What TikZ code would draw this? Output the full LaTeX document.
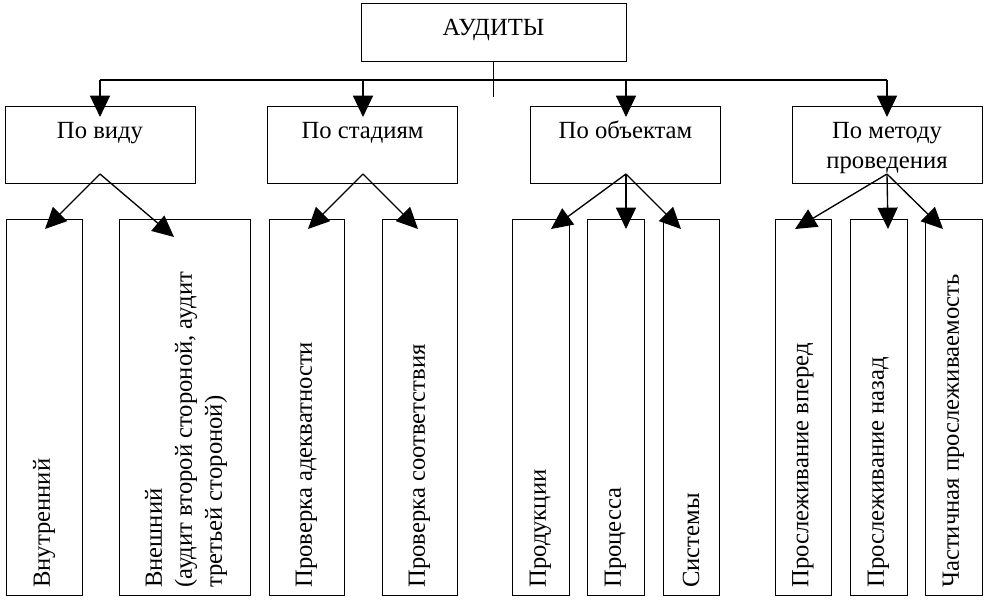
\documentclass[tikz,border=0pt]{standalone}
\usepackage{fontspec}
\setmainfont{Liberation Serif}
\usetikzlibrary{arrows.meta,calc}
\begin{document}
\begin{tikzpicture}[x=0.75pt,y=-0.75pt,
  box/.style={draw=black, line width=0.75pt, inner sep=0pt, outer sep=0pt},
  lvl/.style={box, minimum width=142.5pt, minimum height=57.75pt},
  leaf/.style={box, minimum height=281.25pt, minimum width=#1},
  lbl/.style={font=\fontsize{18.5}{22.5}\selectfont, inner sep=0pt, align=center, anchor=base},
  vlbl/.style={font=\fontsize{18.5}{22.5}\selectfont, inner sep=0pt, align=left, rotate=90, anchor=west},
  conn/.style={line width=1pt},
  arr/.style={conn, -{Triangle[length=16pt,width=15pt]}}]
\useasboundingbox (0,0) rectangle (998,602);
% top
\node[box, minimum width=198.75pt, minimum height=43.5pt] (top) at (493.5,33) {};
\node[lbl] (ttop) at (493.5,36) {АУДИТЫ};
% level 2
\node[lvl] (v1) at (100,145.5) {};
\node[lvl] (v2) at (362.5,145.5) {};
\node[lvl] (v3) at (625.5,145.5) {};
\node[lvl] (v4) at (887,145.5) {};
\node[lbl] (tv1) at (100,139) {По виду};
\node[lbl] (tv2) at (362.5,139) {По стадиям};
\node[lbl] (tv3) at (625.5,139) {По объектам};
\node[lbl] (tv4) at (887,169) {По методу\\проведения};
% leaves
\node[leaf=57pt]    (l1)  at (44,407.5) {};
\node[leaf=98.25pt] (l2)  at (184.5,407.5) {};
\node[leaf=56.25pt] (l3)  at (306.5,407.5) {};
\node[leaf=56.25pt] (l4)  at (419.5,407.5) {};
\node[leaf=42.75pt] (l5)  at (540.5,407.5) {};
\node[leaf=42.75pt] (l6)  at (615.5,407.5) {};
\node[leaf=42pt]    (l7)  at (691,407.5) {};
\node[leaf=42pt]    (l8)  at (803,407.5) {};
\node[leaf=42.75pt] (l9)  at (878.5,407.5) {};
\node[leaf=42.75pt] (l10) at (953.5,407.5) {};
\node[vlbl] (tl1)  at (44,588) {Внутренний};
\node[vlbl] (tl2)  at (186,588) {Внешний\\(аудит второй стороной, аудит\\третьей стороной)};
\node[vlbl] (tl3)  at (306.5,588) {Проверка адекватности};
\node[vlbl] (tl4)  at (419.5,588) {Проверка соответствия};
\node[vlbl] (tl5)  at (540.5,588) {Продукции};
\node[vlbl] (tl6)  at (615.5,588) {Процесса};
\node[vlbl] (tl7)  at (691,588) {Системы};
\node[vlbl] (tl8)  at (803,588) {Прослеживание вперед};
\node[vlbl] (tl9)  at (878.5,588) {Прослеживание назад};
\node[vlbl] (tl10) at (953.5,588) {Частичная прослеживаемость};
% bus
\coordinate (tick) at (493.5,97);
\coordinate (b1) at (100,80);
\coordinate (b2) at (363,80);
\coordinate (b3) at (626,80);
\coordinate (b4) at (887,80);
\coordinate (e1) at (100,117);
\coordinate (e2) at (363,117);
\coordinate (e3) at (626,117);
\coordinate (e4) at (887,117);
\draw[conn] (top.south) -- (tick);
\draw[conn] (b1) -- (b4);
\draw[arr] (b1) -- (e1);
\draw[arr] (b2) -- (e2);
\draw[arr] (b3) -- (e3);
\draw[arr] (b4) -- (e4);
% fan starts
\coordinate (f1) at (100,174);
\coordinate (f2) at (363,174);
\coordinate (f3) at (626,174);
\coordinate (f4) at (887,174);
% tips
\coordinate (p1) at (45,229);
\coordinate (p2) at (174,237);
\coordinate (p3) at (308,229);
\coordinate (p4) at (418,229);
\coordinate (p5) at (551,229);
\coordinate (p6) at (626,229);
\coordinate (p7) at (681,229);
\coordinate (p8) at (795,229);
\coordinate (p9) at (888,229);
\coordinate (p10) at (943,229);
\draw[arr] (f1) -- (p1);
\draw[arr] (f1) -- (p2);
\draw[arr] (f2) -- (p3);
\draw[arr] (f2) -- (p4);
\draw[arr] (f3) -- (p5);
\draw[arr] (f3) -- (p6);
\draw[arr] (f3) -- (p7);
\draw[arr] (f4) -- (p8);
\draw[arr] (f4) -- (p9);
\draw[arr] (f4) -- (p10);
\end{tikzpicture}
\end{document}
